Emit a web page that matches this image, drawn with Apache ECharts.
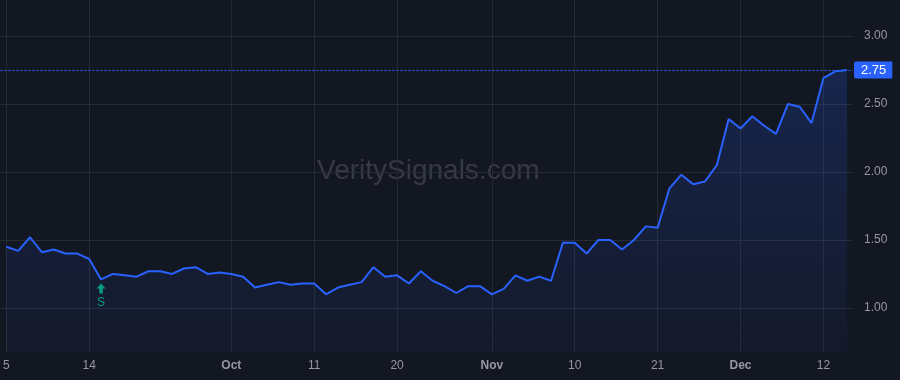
<!DOCTYPE html>
<html>
<head>
<meta charset="utf-8">
<title>VeritySignals</title>
<script src="https://cdn.jsdelivr.net/npm/echarts@6/dist/echarts.min.js"></script>
<style>
  html, body {margin: 0; padding: 0; background: #131722;}
  #chart {width: 900px; height: 380px;}
</style>
</head>
<body>
<div id="chart"></div>
<script>
// trading days shown on the chart
const dates = [
  '2023-09-05', '2023-09-06', '2023-09-07', '2023-09-08', '2023-09-11', '2023-09-12', '2023-09-13', '2023-09-14',
  '2023-09-15', '2023-09-18', '2023-09-19', '2023-09-20', '2023-09-21', '2023-09-22', '2023-09-25', '2023-09-26',
  '2023-09-27', '2023-09-28', '2023-09-29',
  '2023-10-02', '2023-10-03', '2023-10-04', '2023-10-05', '2023-10-06', '2023-10-09', '2023-10-10', '2023-10-11',
  '2023-10-12', '2023-10-13', '2023-10-16', '2023-10-17', '2023-10-18', '2023-10-19', '2023-10-20', '2023-10-23',
  '2023-10-24', '2023-10-25', '2023-10-26', '2023-10-27', '2023-10-30', '2023-10-31',
  '2023-11-01', '2023-11-02', '2023-11-03', '2023-11-06', '2023-11-07', '2023-11-08', '2023-11-09', '2023-11-10',
  '2023-11-13', '2023-11-14', '2023-11-15', '2023-11-16', '2023-11-17', '2023-11-20', '2023-11-21', '2023-11-22',
  '2023-11-24', '2023-11-27', '2023-11-28', '2023-11-29', '2023-11-30',
  '2023-12-01', '2023-12-04', '2023-12-05', '2023-12-06', '2023-12-07', '2023-12-08', '2023-12-11', '2023-12-12',
  '2023-12-13', '2023-12-14'
];

const prices = [
  1.45, 1.42, 1.52, 1.41, 1.43, 1.40, 1.40, 1.36, 1.21, 1.25, 1.24, 1.23, 1.27, 1.27, 1.25, 1.29,
  1.30, 1.25, 1.26, 1.25, 1.23, 1.15, 1.17, 1.19, 1.17, 1.18, 1.18, 1.10, 1.15, 1.17, 1.19, 1.30,
  1.23, 1.24, 1.18, 1.27, 1.20, 1.16, 1.11, 1.16, 1.16, 1.10, 1.14, 1.24, 1.20, 1.23, 1.20, 1.48,
  1.48, 1.40, 1.50, 1.50, 1.43, 1.50, 1.60, 1.59, 1.88, 1.98, 1.91, 1.93, 2.05, 2.39, 2.32, 2.41,
  2.34, 2.28, 2.50, 2.48, 2.36, 2.69, 2.74, 2.75
];

// x axis ticks
const tickDates = ['2023-09-05', '2023-09-14', '2023-10-02', '2023-10-11', '2023-10-20',
  '2023-11-01', '2023-11-10', '2023-11-21', '2023-12-01', '2023-12-12'];
const tickLabels = ['5', '14', 'Oct', '11', '20', 'Nov', '10', '21', 'Dec', '12'];
const monthLabels = ['Oct', 'Nov', 'Dec'];

// y axis ticks
const yTicks = [1.0, 1.5, 2.0, 2.5, 3.0];

// signal marker
const signalDate = '2023-09-15';
const signalText = 'S';
const lastPrice = 2.75;

const isTick = (idx, val) => tickDates.indexOf(val) >= 0;

const chart = echarts.init(document.getElementById('chart'));

const option = {
  backgroundColor: '#131722',
  animation: false,
  textStyle: {fontFamily: '"Liberation Sans", Arial, sans-serif'},
  grid: {left: 0, right: 47, top: 0, bottom: 28},
  graphic: [{
    type: 'text',
    left: 317,
    top: 157,
    z: 0,
    silent: true,
    style: {
      text: 'VeritySignals.com',
      fill: 'rgba(120,123,134,0.35)',
      fontSize: 28,
      fontFamily: '"Liberation Sans", Arial, sans-serif'
    }
  }],
  xAxis: {
    type: 'category',
    data: dates,
    boundaryGap: true,
    axisLine: {show: false},
    axisTick: {show: false},
    axisLabel: {
      interval: isTick,
      margin: 8,
      fontSize: 12,
      color: '#9598a1',
      formatter: function (val) {
        const lbl = tickLabels[tickDates.indexOf(val)];
        return monthLabels.indexOf(lbl) >= 0 ? '{m|' + lbl + '}' : lbl;
      },
      rich: {
        m: {fontSize: 12, fontWeight: 'bold', color: '#9598a1'}
      }
    },
    splitLine: {
      show: true,
      interval: isTick,
      alignWithLabel: true,
      lineStyle: {color: '#262a35', width: 1}
    }
  },
  yAxis: {
    type: 'value',
    position: 'right',
    min: 0.676,
    max: 3.265,
    axisLine: {show: false},
    axisTick: {show: false, customValues: yTicks},
    axisLabel: {
      customValues: yTicks,
      margin: 11,
      fontSize: 12,
      color: '#9598a1',
      formatter: v => v.toFixed(2)
    },
    splitLine: {lineStyle: {color: '#262a35', width: 1}}
  },
  series: [{
    type: 'line',
    data: prices,
    symbol: 'none',
    z: 3,
    lineStyle: {color: '#2962ff', width: 2},
    areaStyle: {
      color: {
        type: 'linear', x: 0, y: 0, x2: 0, y2: 1,
        colorStops: [
          {offset: 0, color: 'rgba(41,98,255,0.28)'},
          {offset: 1, color: 'rgba(41,98,255,0.05)'}
        ]
      }
    },
    markLine: {
      silent: true,
      symbol: 'none',
      lineStyle: {color: '#2962ff', type: [2, 2], width: 1},
      label: {
        show: true,
        position: 'end',
        distance: 1,
        formatter: lastPrice.toFixed(2),
        color: '#ffffff',
        fontSize: 13,
        backgroundColor: '#2962ff',
        padding: [2, 6, 2, 7],
        borderRadius: [2, 0, 0, 2]
      },
      data: [{yAxis: lastPrice}]
    },
    markPoint: {
      silent: true,
      data: [{
        coord: [signalDate, prices[dates.indexOf(signalDate)]],
        symbol: 'path://M5,0 L10,5 L7,5 L7,10 L3,10 L3,5 L0,5 Z',
        symbolSize: [9, 10],
        symbolOffset: [0, 9],
        itemStyle: {color: '#089981'},
        label: {
          show: true,
          formatter: signalText,
          position: 'bottom',
          distance: 3,
          fontSize: 12,
          color: '#089981'
        }
      }]
    }
  }]
};

chart.setOption(option);
</script>
</body>
</html>
